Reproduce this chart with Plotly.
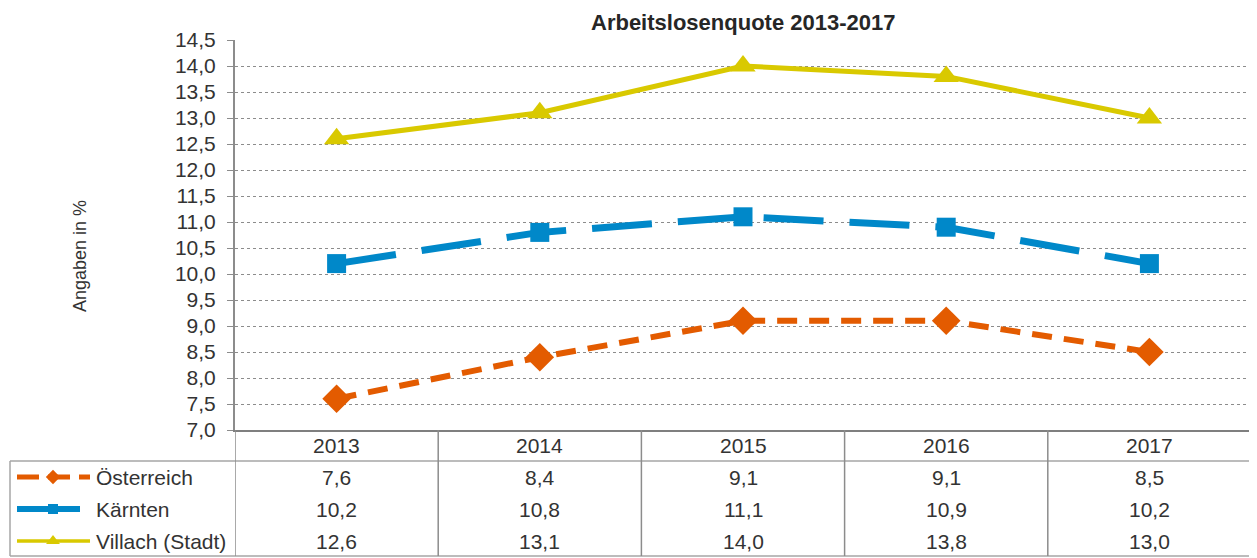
import plotly.graph_objects as go

# ---- data ----
years = ["2013", "2014", "2015", "2016", "2017"]
oesterreich = [7.6, 8.4, 9.1, 9.1, 8.5]
kaernten = [10.2, 10.8, 11.1, 10.9, 10.2]
villach = [12.6, 13.1, 14.0, 13.8, 13.0]
series_names = ["Österreich", "Kärnten", "Villach (Stadt)"]
title_text = "Arbeitslosenquote 2013-2017"
y_title = "Angaben in %"

# ---- layout geometry (pixels in the 1257x558 window) ----
WIN_W, WIN_H = 1257, 558
OFF = 8  # default page margin around the plot div
W, H = WIN_W - OFF, WIN_H - OFF
PL, PR, PT, PB = 235, 1251, 40, 430
YEAR_Y = 445
ROW_Y = [477, 509, 541]
TABLE_TOP, TABLE_BOTTOM, TABLE_LEFT = 461, 556, 10
YTITLE_X, YTITLE_Y = 80, 256

ORANGE = "#E35B00"
BLUE = "#0088C9"
YELLOW = "#D9C900"
TXT = "#333333"
FONT = "Liberation Sans, Arial, sans-serif"
FS = 21


def px(x):
    return (x - OFF) / W


def py(y):
    return 1 - (y - OFF) / H


fig = go.Figure()

styles = [
    dict(color=ORANGE, width=6, dash="20px,12px", symbol="diamond", size=22),
    dict(color=BLUE, width=7, dash="60px,26px", symbol="square", size=19),
    dict(color=YELLOW, width=5, dash="solid", symbol="triangle-up", size=22),
]
series = [oesterreich, kaernten, villach]

for name, vals, st in zip(series_names, series, styles):
    fig.add_trace(go.Scatter(
        x=years, y=vals, name=name, mode="lines+markers",
        line=dict(color=st["color"], width=st["width"], dash=st["dash"]),
        marker=dict(symbol=st["symbol"], size=st["size"], color=st["color"]),
        xaxis="x", yaxis="y", showlegend=False, hoverinfo="skip",
    ))

# legend keys inside the data table (pixel overlay axes)
key_styles = [
    dict(color=ORANGE, width=5, dash="22px,9px", symbol="diamond", size=11),
    dict(color=BLUE, width=6, dash="solid", symbol="square", size=10),
    dict(color=YELLOW, width=3.5, dash="solid", symbol="triangle-up", size=12),
]
for ry, ks, xe in zip(ROW_Y, key_styles, [90, 80, 90]):
    fig.add_trace(go.Scatter(
        x=[17, xe], y=[ry, ry], mode="lines",
        line=dict(color=ks["color"], width=ks["width"], dash=ks["dash"]),
        xaxis="x2", yaxis="y2", showlegend=False, hoverinfo="skip",
    ))
    fig.add_trace(go.Scatter(
        x=[53], y=[ry], mode="markers",
        marker=dict(symbol=ks["symbol"], size=ks["size"], color=ks["color"]),
        xaxis="x2", yaxis="y2", showlegend=False, hoverinfo="skip",
    ))

shapes = []
GRID = "#A6A6A6"
# horizontal table lines
for yy in (TABLE_TOP, TABLE_BOTTOM):
    shapes.append(dict(type="line", xref="paper", yref="paper",
                       x0=px(TABLE_LEFT), x1=px(PR), y0=py(yy), y1=py(yy),
                       line=dict(color=GRID, width=1.5)))
# left border of the legend column
shapes.append(dict(type="line", xref="paper", yref="paper",
                   x0=px(TABLE_LEFT), x1=px(TABLE_LEFT), y0=py(TABLE_TOP), y1=py(TABLE_BOTTOM),
                   line=dict(color=GRID, width=1.5)))
# vertical column separators
for k in range(len(years) + 1):
    xv = k - 0.5
    top = py(PT) if k == len(years) else py(PB)
    shapes.append(dict(type="line", xref="x", yref="paper",
                       x0=xv, x1=xv, y0=top, y1=py(TABLE_BOTTOM),
                       line=dict(color="#8C8C8C", width=1.5)))

annotations = []
for i, yr in enumerate(years):
    annotations.append(dict(
        x=i, xref="x", y=py(YEAR_Y), yref="paper", text=yr,
        showarrow=False, xanchor="center", yanchor="middle",
        font=dict(family=FONT, size=FS, color=TXT)))
for ry, vals in zip(ROW_Y, series):
    for i, v in enumerate(vals):
        annotations.append(dict(
            x=i, xref="x", y=py(ry), yref="paper", text=f"{v:.1f}".replace(".", ","),
            showarrow=False, xanchor="center", yanchor="middle",
            font=dict(family=FONT, size=FS, color=TXT)))
for ry, name in zip(ROW_Y, series_names):
    annotations.append(dict(
        x=px(94), xref="paper", y=py(ry), yref="paper", text=name,
        showarrow=False, xanchor="left", yanchor="middle",
        font=dict(family=FONT, size=FS, color=TXT)))
annotations.append(dict(
    x=px((PL + PR) / 2), xref="paper", y=1, yref="paper", text=f"<b>{title_text}</b>",
    showarrow=False, xanchor="center", yanchor="top",
    font=dict(family=FONT, size=22, color="#262626")))
annotations.append(dict(
    x=px(YTITLE_X), xref="paper", y=py(YTITLE_Y), yref="paper", text=y_title,
    showarrow=False, textangle=-90, xanchor="center", yanchor="middle",
    font=dict(family=FONT, size=18, color=TXT)))

fig.update_layout(
    width=W, height=H,
    margin=dict(l=0, r=0, t=0, b=0, autoexpand=False),
    paper_bgcolor="white", plot_bgcolor="rgba(0,0,0,0)",
    separators=",.",
    font=dict(family=FONT, size=FS, color=TXT),
    xaxis=dict(
        domain=[px(PL), px(PR)], type="category", categoryorder="array",
        categoryarray=years, range=[-0.5, len(years) - 0.5],
        showgrid=False, zeroline=False, showline=True, linecolor="#7F7F7F", linewidth=2,
        ticks="", showticklabels=False,
        anchor="y", fixedrange=True, automargin=False,
    ),
    yaxis=dict(
        domain=[py(PB), py(PT)], range=[7.0, 14.5], dtick=0.5, tick0=7.0,
        tickformat=".1f", showgrid=True, gridcolor="#8C8C8C", griddash="dot", gridwidth=1,
        zeroline=False, showline=True, linecolor="#8C8C8C", linewidth=2,
        ticks="outside", ticklen=6, tickcolor="#8C8C8C", tickwidth=1,
        tickfont=dict(family=FONT, size=FS, color=TXT), ticklabelstandoff=7,
        anchor="x", fixedrange=True, automargin=False,
    ),
    xaxis2=dict(domain=[0, 1], range=[OFF, WIN_W], visible=False, anchor="y2",
                fixedrange=True, automargin=False),
    yaxis2=dict(domain=[0, 1], range=[WIN_H, OFF], visible=False, anchor="x2",
                fixedrange=True, automargin=False),
    shapes=shapes,
    annotations=annotations,
)

fig.write_html("out.html")
